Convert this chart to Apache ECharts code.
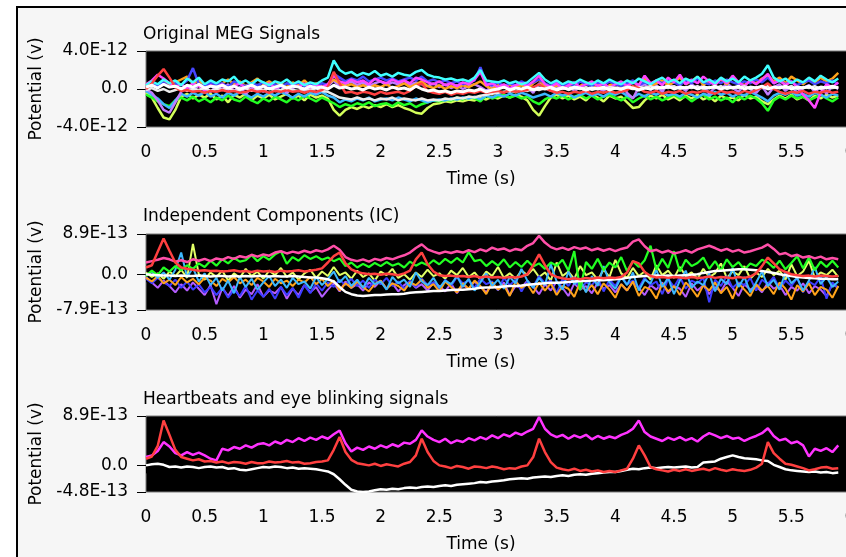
<!DOCTYPE html>
<html>
<head>
<meta charset="utf-8">
<script src="https://cdn.jsdelivr.net/npm/echarts@6/dist/echarts.min.js"></script>
<style>
html,body{margin:0;padding:0;background:#fff;}
#chart{width:846px;height:557px;}
</style>
</head>
<body>
<div id="chart"></div>
<script>
// ---- sampling grid (seconds) ----
const DT = 0.05;
// ---- axis ticks / labels ----
const xTickStep = 0.5;
const yTicks1 = [-4, 0, 4];          // units of 1e-12 V
const yLabels1 = ['-4.0E-12', '0.0', '4.0E-12'];
const yTicks2 = [-7.9, 0, 8.9];      // units of 1e-13 V
const yLabels2 = ['-7.9E-13', '0.0', '8.9E-13'];
const yTicks3 = [-4.8, 0, 8.9];      // units of 1e-13 V
const yLabels3 = ['-4.8E-13', '0.0', '8.9E-13'];
const titles = ['Original MEG Signals', 'Independent Components (IC)', 'Heartbeats and eye blinking signals'];

// ---- Plot 1: original MEG signals (1e-12 V) ----
const meg_white = [0.2,0.4,0.1,0.5,0.2,0.3,0.0,0.4,0.2,0.5, 0.1,0.3,0.2,0.4,0.1,0.3,0.0,0.2,0.4,0.1, 0.3,0.0,0.2,0.4,0.1,0.3,0.2,0.0,0.3,0.1, 0.2,0.0,0.4,0.1,0.2,0.0,0.1,-0.1,0.2,0.0, 0.1,-0.1,0.2,0.0,0.1,-0.1,0.3,0.0,-0.2,-0.1, -0.3,-0.2,-0.4,-0.2,-0.3,-0.1,-0.2,0.0,-0.3,-0.1, 0.0,0.2,-0.1,0.1,0.0,0.2,-0.1,0.1,0.0,0.2, -0.1,0.1,0.0,0.2,0.1,-0.1,0.1,0.0,0.2,-0.1, 0.1,0.0,0.2,0.1,-0.1,0.1,0.0,0.2,0.1,0.3, 0.0,0.2,0.1,0.3,0.0,0.2,0.1,0.3,0.0,0.2, 0.1,0.3,0.0,0.2,0.1,0.3,0.0,0.2,0.1,0.3, 0.0,0.2,0.1,0.3,0.0,0.2,0.1,0.3,0.1];
const meg_red = [0.0,0.6,1.4,2.1,1.2,0.2,-0.2,-0.1,-0.3,-0.2, -0.4,-0.2,-0.3,-0.1,-0.3,-0.2,-0.4,-0.3,-0.1,-0.3, -0.2,-0.4,-0.2,-0.3,-0.1,-0.3,-0.2,-0.4,-0.2,-0.3, -0.1,0.2,1.8,0.6,-0.4,-0.3,-0.5,-0.3,-0.4,-0.6, -0.3,-0.5,-0.4,-0.3,-0.5,-0.2,0.3,0.6,-0.2,-0.4, -0.5,-0.3,-0.6,-0.4,-0.5,-0.3,-0.4,-0.2,-0.4,-0.3, -0.2,-0.4,-0.1,-0.3,-0.2,-0.1,0.2,0.5,0.1,-0.2, -0.4,-0.3,-0.5,-0.3,-0.4,-0.2,-0.5,-0.3,-0.4,-0.2, -0.4,-0.3,-0.1,0.3,0.1,-0.3,-0.4,-0.2,-0.5,-0.3, -0.4,-0.2,-0.5,-0.3,-0.4,-0.2,-0.3,-0.5,-0.2,-0.4, -0.3,-0.5,-0.2,-0.4,-0.1,0.2,0.6,0.0,-0.3,-0.5, -0.3,-0.4,-0.2,-0.5,-0.3,-0.4,-0.2,-0.4,-0.3];
const meg_cyan = [0.4,0.8,0.5,1.0,0.6,0.9,0.4,1.1,0.7,1.2, 0.5,0.9,0.6,1.0,0.8,1.3,0.6,0.9,0.5,1.0, 0.7,0.4,0.8,0.6,1.0,0.5,0.8,0.4,0.7,0.5, 0.9,1.2,3.0,2.0,1.6,1.8,1.4,1.7,1.5,1.9, 1.4,1.6,1.3,1.7,1.5,1.4,1.8,2.0,1.5,1.3, 1.2,1.0,1.1,0.9,1.0,0.8,1.2,2.0,0.9,0.8, 0.7,0.9,0.6,0.8,0.5,0.7,1.2,1.7,1.0,0.6, 0.9,0.5,0.8,0.6,1.0,0.7,0.5,0.9,0.6,1.0, 0.7,0.5,0.9,0.6,1.1,0.8,0.5,0.9,1.2,0.7, 1.0,0.6,1.1,0.8,1.3,0.7,1.0,0.6,1.2,0.8, 1.1,0.7,1.3,0.9,1.2,1.6,2.5,1.2,0.8,1.1, 0.6,1.0,0.7,1.2,0.8,1.4,1.0,0.7,1.1];
const meg_blue = [0.2,0.5,0.3,0.7,0.2,0.6,0.4,0.9,2.2,0.5, 0.3,0.7,0.4,0.6,0.2,0.8,0.5,0.3,0.6,0.4, 0.7,0.3,0.5,0.2,0.6,0.4,0.7,0.3,0.5,0.2, 0.6,0.4,1.6,1.2,0.8,1.1,0.9,1.3,0.8,1.0, 1.2,0.9,1.1,0.8,1.0,1.2,0.9,1.3,0.8,1.0, 0.7,0.9,0.6,0.8,0.5,0.7,0.9,2.3,0.6,0.4, 0.7,0.3,0.6,0.4,0.8,0.5,0.7,1.0,0.6,0.3, 0.7,0.4,0.6,0.3,0.8,0.5,0.3,0.7,0.4,0.8, 0.5,0.3,0.6,0.9,0.4,0.7,0.5,0.9,0.6,1.0, 0.7,0.4,0.9,0.6,1.1,0.7,0.5,0.9,0.6,1.0, 0.7,0.5,0.8,0.6,1.0,0.7,1.2,0.6,0.9,0.5, 0.8,0.4,0.7,0.9,0.5,0.8,0.6,0.9,0.5];
const meg_magenta = [0.5,0.9,1.5,1.1,0.6,0.2,0.5,0.1,0.6,0.3, -0.2,0.4,0.1,0.5,-0.1,0.3,0.6,0.0,0.4,-0.2, 0.3,0.6,0.1,0.4,-0.1,0.5,0.2,0.6,0.0,0.4, 0.2,0.5,1.4,0.8,0.6,1.0,0.7,0.9,0.5,1.1, 0.8,0.6,1.0,0.7,0.9,0.6,1.2,1.0,0.7,0.5, 0.8,0.4,0.6,0.3,0.7,0.5,1.0,1.8,0.4,0.6, 0.2,0.5,0.1,0.4,0.6,0.3,0.8,1.4,0.5,0.2, 0.6,0.0,0.4,0.7,0.2,0.5,0.8,0.3,0.6,0.1, 0.5,0.8,0.3,0.7,0.4,1.4,0.6,0.9,0.4,1.2, 0.7,1.5,0.5,1.0,0.6,1.3,0.8,0.4,1.1,0.6, 1.4,0.7,0.3,0.9,0.5,1.0,1.6,0.6,0.9,0.4, 0.8,0.2,-0.6,-1.2,-2.0,-0.4,0.5,0.2,0.7];
const meg_purple = [0.0,-0.4,-1.2,-2.2,-2.5,-1.4,-0.3,0.3,-0.2,0.4, 0.1,-0.3,0.3,0.0,0.5,-0.2,0.2,-0.5,0.1,0.4, -0.3,0.2,-0.1,0.3,-0.4,0.1,0.4,-0.2,0.2,-0.4, 0.0,0.3,0.9,0.2,0.5,0.8,0.4,0.7,0.3,0.6, 0.8,0.4,0.7,0.5,0.9,0.4,0.7,0.5,0.3,0.6, 0.2,0.5,0.1,0.4,0.0,0.3,0.5,0.2,-0.2,0.3, 0.0,0.4,-0.3,0.2,-0.1,0.3,-0.4,0.6,0.1,-0.2, 0.3,0.0,0.4,-0.2,0.2,-0.3,0.4,0.1,-0.2,0.3, 0.0,0.5,-0.4,-1.0,0.2,0.5,-0.1,0.4,-0.3,0.6, 0.1,0.3,-0.2,0.5,0.0,0.4,-0.5,0.2,-0.1,0.6, 0.1,-0.3,0.4,0.0,-0.4,0.3,-0.6,0.2,0.5,-0.2, 0.3,-0.4,0.1,0.4,-0.3,0.2,-0.5,0.3,0.0];
const meg_lime = [-0.4,-0.9,-2.0,-3.0,-3.2,-2.2,-0.8,-0.5,-1.0,-0.6, -0.9,-0.5,-1.1,-0.7,-1.4,-0.6,-0.9,-0.5,-1.2,-0.7, -1.0,-0.6,-1.1,-0.8,-0.5,-1.0,-0.7,-1.2,-0.6,-0.9, -0.7,-1.0,-2.2,-2.8,-2.2,-1.9,-2.1,-1.8,-2.0,-1.7, -1.9,-1.6,-1.9,-1.7,-2.0,-2.2,-2.5,-2.6,-2.0,-1.6, -1.5,-1.3,-1.4,-1.2,-1.3,-1.1,-1.2,-0.9,-1.1,-0.8, -1.0,-0.7,-0.9,-0.6,-0.8,-1.2,-2.2,-2.8,-1.8,-0.9, -0.6,-1.0,-0.7,-1.1,-0.8,-1.2,-0.6,-0.9,-1.3,-0.7, -1.0,-0.8,-1.4,-2.0,-1.9,-1.2,-0.7,-1.0,-0.6,-1.1, -0.8,-1.2,-0.7,-1.0,-0.6,-1.1,-0.8,-1.3,-0.7,-1.0, -0.9,-1.2,-0.6,-1.0,-0.8,-1.3,-1.6,-1.1,-0.7,-1.0, -0.6,-1.1,-0.8,-1.2,-0.7,-1.0,-0.6,-0.9,-0.7];
const meg_green = [-0.6,-0.9,-1.3,-1.6,-1.8,-1.2,-0.9,-1.2,-0.8,-1.3, -1.0,-1.4,-0.9,-1.2,-0.7,-1.1,-1.3,-0.8,-1.2,-1.5, -1.0,-1.3,-0.8,-1.1,-1.4,-0.9,-1.2,-0.7,-1.0,-1.3, -0.9,-1.2,-1.5,-1.9,-1.6,-1.8,-1.5,-1.7,-1.4,-1.8, -1.6,-1.5,-1.8,-1.4,-1.7,-1.5,-1.9,-1.6,-1.4,-1.2, -1.3,-1.1,-1.2,-0.9,-1.1,-0.8,-1.0,-1.3,-0.7,-1.0, -0.8,-0.6,-0.9,-0.7,-1.0,-0.8,-1.3,-1.6,-1.1,-0.8, -1.0,-0.7,-1.1,-0.8,-0.6,-1.0,-0.7,-1.1,-0.8,-0.6, -0.9,-1.2,-0.8,-1.4,-1.0,-0.7,-1.1,-0.8,-1.2,-0.9, -0.6,-1.0,-0.8,-1.3,-0.9,-0.6,-1.1,-0.8,-1.2,-0.9, -1.4,-0.8,-1.1,-0.7,-1.0,-1.5,-2.3,-1.2,-0.8,-1.1, -0.7,-1.0,-0.8,-1.2,-0.9,-0.6,-1.0,-1.3,-0.9];
const meg_lightblue = [-0.2,-0.6,-1.0,-1.6,-2.0,-1.2,-0.5,-0.8,-0.4,-0.7, -0.3,-0.8,-0.5,-0.9,-0.4,-0.7,-0.3,-0.6,-0.9,-0.5, -0.8,-0.4,-0.7,-0.3,-0.6,-0.9,-0.5,-0.8,-0.4,-0.6, -0.3,-0.7,-0.9,-1.4,-1.1,-1.3,-1.0,-1.2,-0.9,-1.3, -1.1,-1.0,-1.2,-0.9,-1.1,-1.3,-1.0,-1.2,-1.4,-1.2, -1.1,-1.2,-1.0,-1.1,-0.9,-1.0,-0.8,-1.1,-0.7,-0.9, -0.6,-0.8,-0.5,-0.7,-0.4,-0.6,-0.9,-0.7,-0.5,-0.8, -0.4,-0.7,-0.5,-0.9,-0.6,-0.4,-0.7,-0.5,-0.8,-0.4, -0.6,-0.3,-0.7,-0.9,-0.5,-0.8,-0.4,-0.6,-0.3,-0.7, -0.5,-0.8,-0.4,-0.6,-0.9,-0.5,-0.7,-0.3,-0.6,-0.4, -0.8,-0.5,-0.7,-0.3,-0.6,-0.9,-1.3,-0.7,-0.4,-0.6, -0.3,-0.7,-0.5,-0.8,-0.4,-0.6,-0.9,-0.5,-0.7];
const meg_orange = [0.3,0.6,0.2,0.8,0.4,0.7,1.0,1.3,0.6,0.9, 0.4,0.8,0.3,0.6,1.0,0.5,0.8,0.3,0.7,1.1, 0.5,0.8,0.4,0.6,0.2,0.7,0.4,0.9,0.3,0.6, 0.2,0.5,1.0,0.6,0.3,0.5,0.2,0.4,0.1,0.4, 0.2,0.5,0.1,0.3,0.6,0.2,0.5,0.8,0.3,0.1, 0.4,0.0,0.3,0.1,0.4,0.2,0.5,0.8,0.3,0.0, 0.4,0.1,0.5,0.2,0.4,0.0,0.6,1.0,0.3,0.0, 0.4,0.2,0.6,0.1,0.3,0.7,0.2,0.5,0.0,0.4, 0.6,0.2,0.5,0.1,0.4,1.1,0.3,0.6,0.9,0.4, 0.7,1.2,0.5,0.8,1.3,0.4,0.9,0.6,1.0,0.5, 1.2,0.7,0.4,0.9,0.6,1.1,1.4,0.8,1.2,0.6, 1.3,0.9,0.5,1.0,0.7,1.2,0.8,1.1,1.7];
const meg_white2 = [-0.1,0.1,-0.2,0.0,-0.3,-0.1,0.1,-0.2,0.0,-0.1, 0.1,-0.2,0.0,-0.1,0.1,-0.2,-0.1,0.1,-0.2,0.0, -0.1,0.1,-0.2,-0.1,0.1,-0.1,-0.2,0.0,-0.1,0.1, -0.2,-0.3,-0.6,-0.9,-1.0,-1.1,-0.9,-1.1,-1.0,-1.2, -1.0,-1.1,-0.9,-1.2,-1.0,-1.1,-1.2,-1.0,-1.2,-1.1, -1.2,-1.0,-1.1,-0.9,-1.0,-0.8,-0.9,-0.7,-0.6,-0.5, -0.4,-0.3,-0.2,-0.3,-0.1,-0.2,0.0,-0.1,0.1,-0.1, 0.0,0.2,-0.1,0.1,0.0,0.2,-0.1,0.1,0.0,0.2, 0.1,-0.1,0.1,0.0,0.2,0.1,0.3,0.0,0.2,0.1, 0.3,0.0,0.2,0.1,0.3,0.0,0.2,0.1,0.3,0.0, 0.2,0.1,0.3,0.0,0.2,0.1,0.3,0.0,0.2,0.1, 0.3,0.0,0.2,0.1,0.3,0.0,0.2,0.1,0.2];

// ---- Plot 2: independent components (1e-13 V) ----
const ic_pink = [2.6,2.9,3.2,3.6,3.3,2.8,3.1,2.7,3.3,3.0, 3.4,2.9,3.5,3.2,3.8,3.4,4.0,3.7,4.3,3.9, 4.4,4.1,4.8,5.1,4.6,5.0,4.7,5.2,4.8,5.3, 5.0,5.5,6.3,5.4,3.8,3.2,2.9,3.3,2.8,3.4, 3.1,3.6,3.3,3.8,4.2,4.8,5.8,6.6,5.5,5.0, 4.6,5.0,4.7,5.1,4.8,5.3,4.9,5.5,5.1,5.9, 5.4,5.7,5.1,5.6,5.3,6.3,6.9,8.5,7.0,6.0, 5.5,5.9,5.4,6.0,5.6,5.9,5.3,5.7,5.2,5.6, 5.1,5.6,5.9,7.2,7.7,6.2,5.1,5.4,4.8,5.2, 4.6,4.9,5.3,4.8,5.5,5.9,6.3,5.8,5.2,5.6, 5.0,5.4,4.8,5.1,5.5,5.9,6.6,5.6,4.4,4.7, 4.0,4.3,3.7,4.0,3.5,3.9,3.3,3.6,3.3];
const ic_red = [1.5,2.0,5.0,7.9,5.2,2.6,1.5,1.2,1.0,0.8, 0.9,0.7,0.8,0.6,0.7,0.9,0.6,0.7,0.5,0.8, 0.6,0.7,0.5,0.8,0.6,0.7,0.9,0.6,0.8,1.0, 1.3,2.6,4.0,4.8,2.4,1.1,0.5,0.2,0.0,0.1, -0.1,0.1,0.0,-0.2,0.2,0.8,3.3,4.8,2.2,0.6, -0.2,-0.4,-0.3,-0.5,-0.4,-0.6,-0.4,-0.7,-0.5,-0.7, -0.6,-0.8,-0.6,-0.7,-0.5,0.0,2.0,4.4,2.0,0.0, -0.6,-0.9,-1.1,-0.9,-1.1,-0.8,-1.0,-0.7,-0.9,-0.7, -0.8,-0.6,0.4,2.9,2.4,0.5,-0.4,-0.7,-0.6,-0.8, -0.6,-0.7,-0.9,-0.6,-0.8,-0.7,-0.5,-0.8,-0.6,-0.7, -0.9,-0.6,-0.8,-0.5,0.2,1.8,3.7,2.4,1.1,0.5, 0.0,-0.2,-0.4,-0.3,-0.5,-0.3,-0.4,-0.5,-0.4];
const ic_white = [0.0,-0.1,-0.2,-0.3,-0.3,-0.4,-0.3,-0.4,-0.4,-0.3, -0.4,-0.5,-0.4,-0.4,-0.5,-0.4,-0.5,-0.4,-0.5,-0.4, -0.4,-0.5,-0.4,-0.5,-0.5,-0.4,-0.5,-0.6,-0.7,-0.7, -0.9,-1.1,-1.6,-2.8,-3.9,-4.4,-4.7,-4.8,-4.7,-4.6, -4.6,-4.5,-4.4,-4.4,-4.3,-4.1,-4.0,-3.9,-3.8,-3.7, -3.7,-3.6,-3.5,-3.4,-3.4,-3.3,-3.2,-3.0,-2.9,-2.9, -2.8,-2.7,-2.6,-2.6,-2.5,-2.3,-2.2,-2.1,-2.0,-1.9, -1.9,-1.8,-1.7,-1.6,-1.5,-1.5,-1.4,-1.3,-1.3,-1.2, -1.1,-1.0,-0.8,-0.6,-0.5,-0.4,-0.4,-0.3,-0.4,-0.3, -0.4,-0.3,-0.2,-0.1,0.0,0.3,0.5,0.7,0.8,0.9, 1.0,1.1,1.1,1.0,0.9,0.7,0.5,0.3,0.0,-0.2, -0.4,-0.6,-0.7,-0.8,-0.9,-1.0,-1.0,-1.1,-1.1];
const ic_green = [-0.4,0.8,-0.2,1.5,0.6,1.8,0.9,2.0,1.2,2.4, 1.6,3.0,1.9,3.3,2.4,3.6,2.8,3.1,4.2,2.9, 4.0,3.2,4.4,5.1,2.3,3.8,3.0,4.2,3.4,4.0, 3.2,3.7,2.9,3.5,1.8,2.6,1.5,2.3,1.6,2.5, 1.8,2.7,1.9,2.4,1.5,2.8,1.9,2.6,2.0,3.1, 2.2,3.4,2.5,3.6,2.6,4.9,2.9,3.2,1.8,2.9, 1.9,3.3,1.5,2.7,1.6,3.0,1.7,2.4,1.2,2.6, 1.9,3.2,0.8,5.1,-3.5,2.7,1.2,3.4,0.9,2.6, 1.5,3.8,0.7,2.9,1.6,3.1,6.3,1.0,3.4,1.4, 5.1,0.6,3.2,1.8,2.5,3.7,1.2,2.9,0.8,3.3, 1.6,2.7,1.0,2.4,1.8,3.2,2.6,1.4,3.0,1.1, 2.5,4.0,1.3,3.7,0.9,2.8,1.6,3.0,1.5];
const ic_blue = [-1.0,-2.0,-0.8,-1.8,-2.6,-1.2,-3.0,-1.6,-3.4,-2.2, -4.0,-2.8,-4.6,-3.0,-5.2,-3.4,-4.8,-2.6,-5.6,-3.6, -5.0,-3.2,-5.4,-2.8,-4.6,-3.0,-5.2,-2.4,-4.2,-2.0, -3.6,-1.8,-2.8,-1.2,-2.4,-1.0,-2.6,-1.4,-3.0,-1.2, -2.2,-0.8,-2.6,-1.6,-3.2,-1.4,-2.8,-1.0,-2.4,-1.8, -3.4,-1.2,-2.6,-0.6,-2.0,-1.4,-3.0,-1.0,-2.2,-1.6, -3.6,-0.8,-2.4,-1.2,-3.8,-1.6,-2.8,-0.4,-2.0,-1.4, -4.2,-1.0,-2.6,-0.6,-3.4,-1.8,-2.4,-0.8,-3.8,-1.2, -2.6,-0.4,-2.2,-1.4,-3.0,-0.8,-2.4,-1.6,-4.4,-1.0, -2.8,-0.6,-3.2,-1.4,-2.0,-0.8,-6.2,-1.2,-2.6,-0.4, -3.0,-1.8,-2.4,-0.8,-3.6,-1.2,-2.2,-0.6,-3.2,-1.4, -2.6,-0.8,-4.0,-1.6,-2.4,-0.6,-5.4,-1.8,-3.0];
const ic_purple = [-0.6,-1.8,-3.0,-1.4,-2.6,-4.0,-2.2,-3.6,-1.8,-3.2, -4.6,-2.4,-6.6,-3.0,-4.8,-2.6,-5.2,-3.4,-4.4,-2.2, -5.0,-3.6,-4.2,-2.8,-5.4,-3.2,-4.6,-2.4,-4.0,-2.8, -5.0,-3.4,-2.0,-3.8,-1.6,-3.0,-2.2,-3.6,-1.8,-2.8, -1.4,-3.2,-2.0,-3.8,-2.4,-1.6,-3.0,-2.2,-3.6,-1.8, -2.6,-3.8,-2.0,-4.2,-2.4,-3.2,-1.6,-2.8,-4.0,-2.2, -3.4,-1.8,-4.6,-2.6,-3.0,-1.4,-2.8,-4.4,-2.2,-3.6, -1.6,-3.0,-4.8,-2.0,-3.4,-2.6,-4.2,-1.8,-3.2,-2.4, -4.0,-2.2,-3.6,-1.6,-3.0,-4.6,-2.4,-3.4,-1.8,-4.2, -2.6,-3.2,-5.0,-2.0,-3.6,-2.4,-4.4,-2.8,-3.8,-1.6, -3.0,-4.8,-2.2,-3.4,-2.6,-4.0,-1.8,-3.2,-2.4,-4.6, -2.8,-3.6,-2.0,-4.2,-2.6,-3.4,-4.8,-2.2,-3.0];
const ic_orange = [-0.8,-1.6,-0.4,-2.0,-1.2,-2.4,-0.6,-1.8,-1.0,-2.2, -0.8,-1.4,-2.6,-1.0,-1.8,-0.6,-2.0,-1.2,-2.4,-0.8, -1.6,-2.8,-1.0,-2.0,-1.4,-2.6,-1.2,-1.8,-0.6,-2.2, -1.0,-2.6,-1.4,-3.6,-2.0,-3.0,-1.6,-2.8,-3.8,-2.2, -1.4,-3.2,-2.0,-2.6,-3.6,-1.8,-2.4,-1.2,-3.0,-2.2, -3.8,-1.6,-2.8,-4.0,-2.0,-3.2,-1.4,-2.6,-4.4,-1.8, -3.4,-2.4,-4.8,-1.6,-3.0,-2.2,-4.2,-1.8,-3.6,-2.0, -4.6,-2.6,-3.2,-5.0,-1.8,-3.8,-2.4,-4.4,-2.0,-3.4, -5.2,-2.2,-3.6,-1.6,-4.8,-2.8,-3.4,-5.4,-2.0,-3.8, -2.6,-4.6,-1.8,-3.2,-5.0,-2.4,-3.6,-1.8,-4.2,-2.8, -5.4,-2.0,-3.4,-4.8,-2.2,-3.6,-2.6,-4.4,-1.8,-3.2, -5.6,-2.4,-3.8,-2.0,-4.6,-2.8,-3.4,-5.2,-2.6];
const ic_lightblue = [-0.2,0.6,-0.8,0.4,-1.2,1.0,4.8,-0.6,1.4,-1.6, 0.2,-2.4,-0.8,-3.6,-1.4,-4.2,-0.6,-2.8,-1.0,-3.4, -1.8,-0.4,-2.6,-1.2,-3.0,-0.8,-2.2,-1.6,-3.2,-0.6, -2.4,-1.0,0.6,-1.8,-0.4,-2.6,-1.2,-3.0,-0.8,-2.2, -1.6,-3.4,-0.6,-2.0,-1.2,-2.8,0.4,-1.6,-2.4,-0.8, -3.0,-1.4,-2.2,-0.4,-2.8,-1.0,-3.6,-1.8,0.2,-2.6, -1.2,-3.2,-0.6,-2.0,1.2,-1.4,-3.0,-0.8,-2.4,2.2, -1.6,-3.4,0.6,-2.2,-1.0,-4.0,-0.4,-2.6,1.8,-1.8, -3.2,-0.6,-2.4,0.4,-3.6,-1.2,-2.0,1.0,-2.8,-0.8, -4.4,-1.4,0.8,-3.0,-1.6,-2.4,0.2,-3.8,-1.0,-2.2, 1.4,-2.8,-0.6,-4.0,-1.8,0.6,-2.6,-1.2,-3.4,0.4, -2.0,-0.8,-3.6,-1.4,1.6,-2.2,-0.6,-2.8,-1.6];
const ic_yellow = [0.4,-0.6,0.2,-1.0,0.6,-0.4,1.0,-0.8,6.7,0.0, -1.2,0.4,-0.6,0.8,-1.4,0.2,-0.8,1.2,-0.4,0.6, -1.0,0.8,-0.2,1.4,-0.6,0.4,-1.2,0.2,1.0,-0.8, 0.6,-0.4,1.6,-0.2,0.4,-1.0,0.8,-0.6,0.2,-1.4, 0.6,-0.2,1.2,-0.8,0.0,-1.2,0.4,-0.6,1.0,-0.4, 0.2,-1.0,0.8,-0.2,1.4,-0.6,0.4,-1.2,0.6,-0.4, 1.6,-0.8,0.2,-1.0,0.8,-0.2,1.2,-0.6,0.4,-1.4, 2.6,-0.4,0.6,-1.0,1.8,-0.2,0.4,-1.2,1.0,-0.6, 3.2,0.2,-0.8,1.4,-0.4,0.6,-1.2,2.0,-0.2,0.8, -0.8,1.6,-0.4,0.4,-1.0,1.2,-0.6,0.2,2.4,-0.8, 0.6,-0.2,1.8,-1.0,0.4,-0.6,1.2,-0.2,0.8,-1.2, 2.2,-0.4,0.6,3.0,-0.8,0.4,-0.2,1.0,-0.6];

// ---- Plot 3: heartbeats and eye blinking (1e-13 V) ----
const hb_magenta = [1.5,1.8,2.6,4.2,3.4,2.2,1.8,2.4,1.9,2.3, 1.8,1.2,0.9,3.0,2.7,3.3,3.0,3.6,3.2,3.8, 4.0,3.6,4.3,3.9,4.6,4.2,4.9,4.4,5.0,4.6, 5.2,4.8,5.6,6.3,4.0,2.5,3.2,2.8,3.4,3.0, 3.6,3.2,3.8,3.4,4.1,3.9,4.6,6.3,5.2,4.6, 4.2,4.8,4.0,4.5,4.2,4.9,4.5,5.1,4.7,5.4, 4.9,5.6,5.2,5.9,5.5,6.1,6.6,8.7,6.6,5.6, 5.1,5.5,4.8,5.4,5.0,5.5,4.7,5.3,4.8,5.2, 4.9,5.5,5.9,6.6,8.1,6.0,5.2,4.8,4.4,5.0, 4.6,5.1,4.5,4.9,4.3,5.2,5.8,5.4,4.9,5.3, 4.8,5.0,4.4,4.9,5.3,5.8,6.7,5.3,4.5,4.8, 4.0,4.3,3.6,1.6,3.0,2.6,3.1,2.4,3.6];
const hb_red = [1.2,1.6,3.5,8.1,5.5,2.8,1.5,1.2,0.9,1.1, 0.7,0.8,0.5,0.7,0.4,0.6,0.5,0.3,0.6,0.4, 0.4,0.7,0.5,0.6,0.8,0.5,0.6,0.3,0.4,0.6, 0.7,0.9,2.8,5.1,2.4,1.0,0.4,0.2,0.0,0.3, -0.1,0.2,0.0,-0.2,0.3,0.6,1.8,4.8,2.4,0.8, 0.0,-0.2,-0.5,-0.1,-0.3,-0.6,-0.2,-0.3,-0.5,-0.2, -0.4,-0.7,-0.5,-0.6,-0.2,0.0,1.5,4.8,2.4,0.6, -0.4,-0.7,-0.9,-0.6,-1.0,-0.8,-1.1,-0.9,-1.2,-1.0, -1.2,-0.9,-0.6,1.2,3.6,1.8,-0.3,-0.7,-0.9,-1.1, -0.8,-1.0,-0.7,-1.0,-0.8,-0.6,-0.9,-0.5,-0.8,-1.0, -0.7,-0.9,-1.0,-0.8,-0.4,0.3,4.2,2.2,1.2,0.3, 0.1,-0.2,-0.5,-0.9,-0.7,-0.4,-0.3,-0.6,-0.5];
const hb_white = [0.0,0.2,0.3,0.1,-0.3,-0.2,-0.4,-0.2,-0.3,-0.5, -0.3,-0.2,-0.4,-0.3,-0.6,-0.5,-0.8,-0.9,-0.7,-0.5, -0.3,-0.4,-0.2,-0.3,-0.5,-0.4,-0.6,-0.5,-0.6,-0.7, -0.9,-1.1,-1.6,-2.5,-3.5,-4.4,-4.7,-4.8,-4.7,-4.5, -4.3,-4.4,-4.2,-4.3,-4.1,-4.0,-4.1,-3.9,-3.8,-3.9, -3.7,-3.6,-3.7,-3.5,-3.4,-3.3,-3.2,-3.0,-3.1,-2.9, -2.8,-2.7,-2.5,-2.4,-2.3,-2.4,-2.2,-2.1,-2.0,-2.1, -1.9,-1.8,-1.9,-1.7,-1.6,-1.7,-1.5,-1.4,-1.3,-1.2, -1.2,-1.0,-0.8,-0.6,-0.7,-0.5,-0.4,-0.5,-0.4,-0.3, -0.4,-0.3,-0.2,-0.4,-0.3,0.5,0.6,0.7,1.2,1.5, 1.8,1.5,1.3,1.2,1.1,0.9,0.8,0.1,-0.3,-0.7, -0.9,-1.0,-1.1,-1.2,-1.1,-1.3,-1.2,-1.4,-1.3];

const FONT = 'DejaVu Sans';
const TXT = { color: '#000', fontSize: 17, fontFamily: FONT };

function pts(arr) { return arr.map((v, i) => [Math.round(i * DT * 100) / 100, v]); }

function xAx(gi) {
  return {
    gridIndex: gi, type: 'value', min: 0, max: 6, interval: xTickStep, offset: 4,
    axisLine: { show: false },
    axisTick: { show: true, length: 8, lineStyle: { color: '#000', width: 1 } },
    axisLabel: Object.assign({ margin: 13, showMaxLabel: true, hideOverlap: false }, TXT),
    splitLine: { show: false },
    name: 'Time (s)', nameLocation: 'middle', nameGap: 40,
    nameTextStyle: Object.assign({ padding: [0, 34, 0, 0] }, TXT)
  };
}
function yAx(gi, ticks, labels) {
  return {
    gridIndex: gi, type: 'value', min: ticks[0], max: ticks[ticks.length - 1], offset: 3,
    axisLine: { show: false },
    axisTick: { show: true, length: 9, customValues: ticks, lineStyle: { color: '#000', width: 1 } },
    axisLabel: Object.assign({
      margin: 15, customValues: ticks,
      formatter: function (v) {
        for (let k = 0; k < ticks.length; k++) if (Math.abs(ticks[k] - v) < 1e-9) return labels[k];
        return '';
      }
    }, TXT),
    splitLine: { show: false },
    name: 'Potential (v)', nameLocation: 'middle', nameGap: 97,
    nameTextStyle: TXT
  };
}
function ln(gi, arr, color, w) {
  return {
    type: 'line', xAxisIndex: gi, yAxisIndex: gi, data: pts(arr),
    symbol: 'none', showSymbol: false, silent: true, animation: false,
    lineStyle: { color: color, width: w }, itemStyle: { color: color }
  };
}

const gridBase = { left: 146, width: 704, height: 76, show: true, backgroundColor: '#000', borderColor: '#7a7a7a', borderWidth: 1, containLabel: false, outerBoundsMode: 'none' };

const option = {
  animation: false,
  backgroundColor: '#ffffff',
  graphic: [{
    type: 'rect', z: -10, silent: true,
    shape: { x: 17, y: 7, width: 900, height: 600 },
    style: { fill: '#f6f6f6', stroke: '#000', lineWidth: 2 }
  }],
  title: [
    { text: titles[0], left: 143, top: 26, padding: 0, textStyle: Object.assign({ fontWeight: 'normal' }, TXT) },
    { text: titles[1], left: 143, top: 208, padding: 0, textStyle: Object.assign({ fontWeight: 'normal' }, TXT) },
    { text: titles[2], left: 143, top: 391, padding: 0, textStyle: Object.assign({ fontWeight: 'normal' }, TXT) }
  ],
  grid: [
    Object.assign({ top: 51 }, gridBase),
    Object.assign({ top: 234 }, gridBase),
    Object.assign({ top: 416 }, gridBase)
  ],
  xAxis: [xAx(0), xAx(1), xAx(2)],
  yAxis: [yAx(0, yTicks1, yLabels1), yAx(1, yTicks2, yLabels2), yAx(2, yTicks3, yLabels3)],
  series: [
    ln(0, meg_lime, '#d4ff5a', 2.5),
    ln(0, meg_green, '#22ff22', 2.5),
    ln(0, meg_lightblue, '#3cb8ff', 2.5),
    ln(0, meg_purple, '#c07cff', 2.5),
    ln(0, meg_orange, '#ffa31a', 2.5),
    ln(0, meg_blue, '#4646ff', 2.5),
    ln(0, meg_magenta, '#ff44ff', 2.5),
    ln(0, meg_cyan, '#40ffff', 2.5),
    ln(0, meg_white2, '#ececec', 2.5),
    ln(0, meg_red, '#ff4040', 2.5),
    ln(0, meg_white, '#ffffff', 3),

    ln(1, ic_yellow, '#e2ff66', 2),
    ln(1, ic_purple, '#b45cff', 2),
    ln(1, ic_blue, '#3c3cff', 2),
    ln(1, ic_orange, '#ffa31a', 2),
    ln(1, ic_lightblue, '#3cb8ff', 2),
    ln(1, ic_green, '#22ff22', 2.2),
    ln(1, ic_pink, '#ff4fa8', 2.5),
    ln(1, ic_white, '#ffffff', 2.5),
    ln(1, ic_red, '#ff4040', 2.5),

    ln(2, hb_magenta, '#ff33ff', 2.5),
    ln(2, hb_white, '#ffffff', 2.5),
    ln(2, hb_red, '#ff4040', 2.5)
  ]
};

const chart = echarts.init(document.getElementById('chart'), null, { renderer: 'canvas' });
chart.setOption(option);
</script>
</body>
</html>
